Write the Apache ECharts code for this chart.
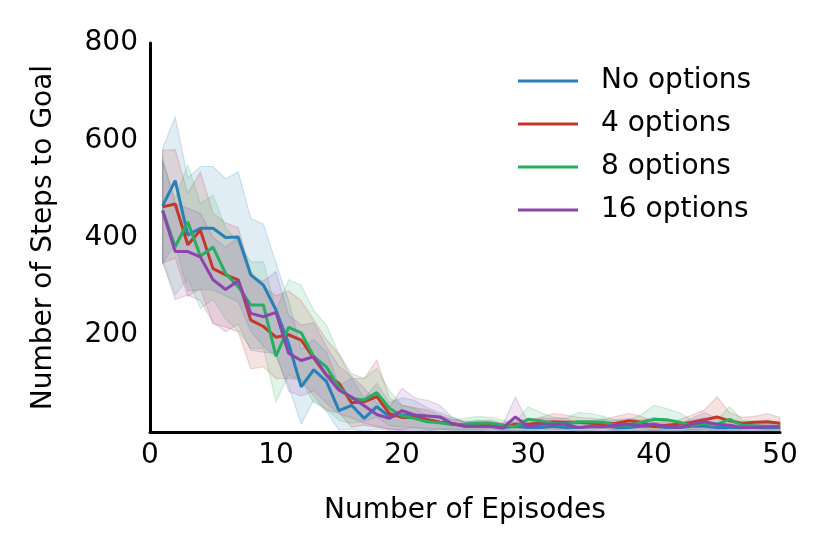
<!DOCTYPE html>
<html>
<head>
<meta charset="utf-8">
<title>Number of Steps to Goal</title>
<script src="https://cdn.jsdelivr.net/npm/echarts@6/dist/echarts.min.js"></script>
<style>
  html, body { margin: 0; padding: 0; background: #fff; }
  #main { width: 830px; height: 554px; }
</style>
</head>
<body>
<div id="main"></div>
<script>
// episodes 1..50
var episodes = [1,2,3,4,5,6,7,8,9,10,11,12,13,14,15,16,17,18,19,20,21,22,23,24,25,26,27,28,29,30,31,32,33,34,35,36,37,38,39,40,41,42,43,44,45,46,47,48,49,50]
var xTicks = [0, 10, 20, 30, 40, 50]
var yTicks = [200, 400, 600, 800]

var seriesNames = ['No options', '4 options', '8 options', '16 options']

// mean values
var meanNone = [465,517,405,419,419,400,401,323,302,251,182,93,128,104,44,55,28,52,32,35,35,25,20,17,12,12,12,9,12,9,9,12,9,9,12,14,9,9,12,12,9,9,12,12,9,9,9,9,9,9]
var mean4 = [463,469,385,415,336,323,313,230,217,195,200,189,152,117,100,60,62,73,38,30,30,25,20,17,14,14,16,11,16,16,19,21,20,20,18,16,18,23,20,11,14,16,20,25,31,23,18,20,21,18]
var mean8 = [456,381,432,362,380,326,299,261,261,156,215,204,155,134,92,69,66,81,49,33,28,21,19,15,16,18,18,14,11,26,23,18,17,21,21,20,14,14,20,26,25,20,14,18,16,26,14,13,11,11]
var mean16 = [455,371,371,360,313,293,311,244,237,246,162,147,155,117,86,72,54,36,28,44,35,33,31,17,12,12,12,8,31,11,16,16,16,9,11,11,14,16,13,16,11,9,16,21,16,14,9,9,11,11]

// shaded bands (upper / lower)
var upNone = [583,648,522,546,546,521,535,439,428,347,270,170,190,165,95,110,70,100,60,70,65,50,40,30,20,25,20,18,20,16,16,20,16,16,20,28,16,16,20,20,16,16,20,20,16,16,16,16,16,16]
var loNone = [347,386,290,292,292,280,268,208,176,155,94,16,66,43,4,6,2,6,4,4,5,2,2,2,2,2,2,2,2,2,2,2,2,2,2,2,2,2,2,2,2,2,2,2,2,2,2,2,2,2]
var up4 = [579,580,491,535,450,430,420,330,300,280,290,270,230,190,160,110,110,148,70,55,50,45,35,25,22,22,25,18,25,25,30,38,35,30,28,25,32,38,32,20,22,25,35,45,72,40,30,32,38,30]
var lo4 = [347,358,279,295,222,216,206,130,134,110,110,108,74,44,40,10,14,10,6,5,10,5,5,6,6,6,7,4,7,7,8,6,6,10,8,7,4,8,8,3,6,7,5,5,4,6,6,8,4,6]
var up8 = [560,480,549,470,487,420,390,350,350,250,313,302,250,220,160,120,110,131,85,55,48,35,32,26,28,32,30,24,20,52,40,30,28,40,38,32,24,24,36,55,48,40,24,30,25,52,24,22,18,18]
var lo8 = [352,282,315,254,273,232,208,172,172,62,117,106,60,48,24,18,22,31,13,11,8,7,6,4,4,4,6,4,2,4,6,6,6,2,4,8,4,4,4,2,2,2,4,6,7,2,4,4,4,4]
var up16 = [560,470,460,450,400,380,400,320,310,330,240,220,225,175,135,115,90,60,50,90,70,65,55,30,20,20,22,16,72,20,28,28,28,18,20,20,25,28,24,30,20,16,28,40,28,25,16,16,20,20]
var lo16 = [350,272,282,270,226,206,222,168,164,162,84,74,85,59,37,29,18,12,6,2,2,2,7,4,4,4,2,2,2,2,4,4,4,2,2,2,3,4,2,2,2,2,4,2,4,3,2,2,2,2]

var colors = ['#2980b9', '#c0392b', '#27ae60', '#8e44ad']
var means = [meanNone, mean4, mean8, mean16]
var uppers = [upNone, up4, up8, up16]
var lowers = [loNone, lo4, lo8, lo16]

var chart = echarts.init(document.getElementById('main'))

function toPairs(arr) {
  return episodes.map(function (e, i) { return [e, arr[i]] })
}

// band polygon drawn with a custom series through the axis scales
function bandSeries(idx) {
  var up = uppers[idx]
  var lo = lowers[idx]
  return {
    type: 'custom',
    silent: true,
    z: 1,
    data: [0],
    renderItem: function (params, api) {
      var pts = []
      for (var i = 0; i < episodes.length; i++) {
        pts.push(api.coord([episodes[i], up[i]]))
      }
      for (var j = episodes.length - 1; j >= 0; j--) {
        pts.push(api.coord([episodes[j], lo[j]]))
      }
      return {
        type: 'polygon',
        shape: { points: pts },
        style: {
          fill: echarts.color.modifyAlpha(colors[idx], 0.14),
          stroke: echarts.color.modifyAlpha(colors[idx], 0.2),
          lineWidth: 1.2
        }
      }
    }
  }
}

var series = []
for (var k = 0; k < 4; k++) {
  series.push(bandSeries(k))
}
for (var m = 0; m < 4; m++) {
  series.push({
    name: seriesNames[m],
    type: 'line',
    z: 3,
    data: toPairs(means[m]),
    showSymbol: false,
    symbol: 'none',
    color: colors[m],
    lineStyle: { width: 3, color: colors[m] }
  })
}

var font = 'DejaVu Sans'
var fs = 28

chart.setOption({
  backgroundColor: '#fff',
  animation: false,
  textStyle: { fontFamily: font },
  grid: { left: 150, right: 50, top: 43, bottom: 122 },
  legend: {
    data: seriesNames,
    orient: 'vertical',
    left: 518,
    top: 65,
    padding: 0,
    icon: 'rect',
    itemWidth: 60,
    itemHeight: 3,
    itemGap: 11,
    textStyle: {
      fontFamily: font,
      fontSize: fs,
      color: '#000',
      lineHeight: 32,
      padding: [0, 0, 0, 18]
    }
  },
  xAxis: {
    type: 'value',
    min: xTicks[0],
    max: xTicks[xTicks.length - 1],
    interval: 10,
    name: 'Number of Episodes',
    nameLocation: 'middle',
    nameGap: 65,
    nameTextStyle: { fontFamily: font, fontSize: fs, color: '#000' },
    axisLine: { show: true, lineStyle: { color: '#000', width: 3 } },
    axisTick: { show: false },
    splitLine: { show: false },
    axisLabel: { fontFamily: font, fontSize: fs, color: '#000', margin: 10 }
  },
  yAxis: {
    type: 'value',
    min: 0,
    max: yTicks[yTicks.length - 1],
    interval: 200,
    name: 'Number of Steps to Goal',
    nameLocation: 'middle',
    nameGap: 92,
    nameTextStyle: { fontFamily: font, fontSize: fs, color: '#000' },
    axisLine: { show: true, lineStyle: { color: '#000', width: 3 } },
    axisTick: { show: false },
    splitLine: { show: false },
    axisLabel: {
      fontFamily: font,
      fontSize: fs,
      color: '#000',
      margin: 12,
      showMinLabel: false
    }
  },
  series: series
})
</script>
</body>
</html>
